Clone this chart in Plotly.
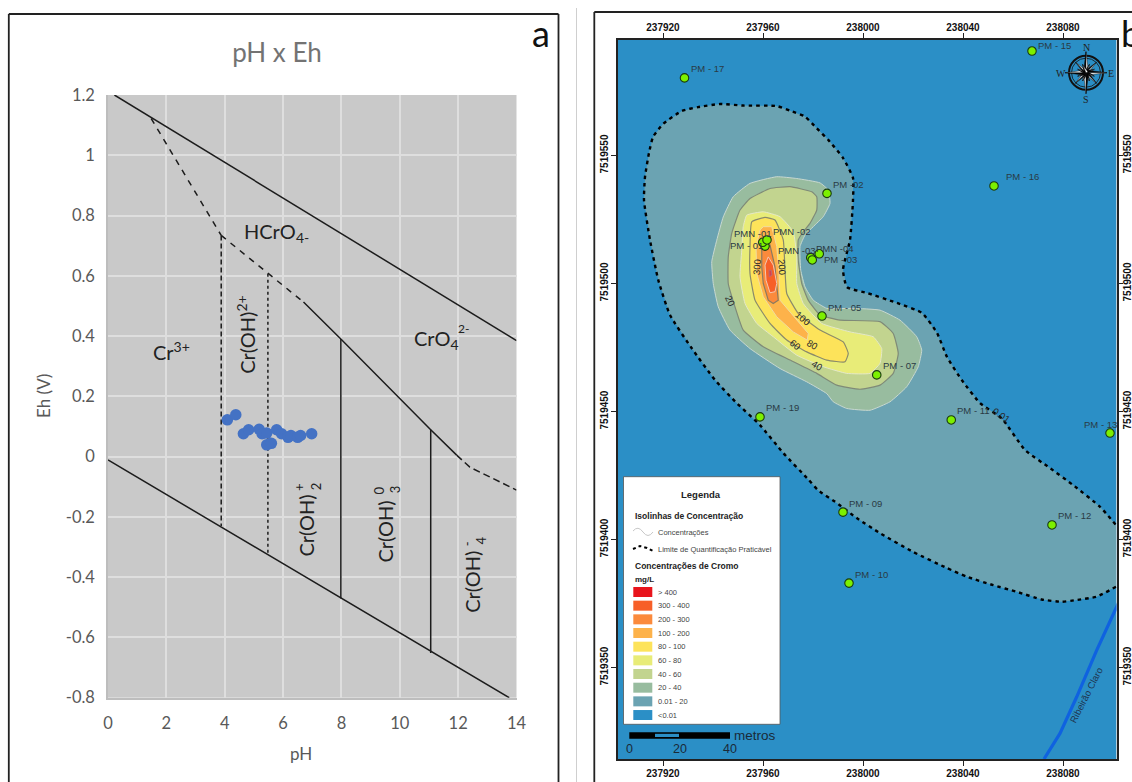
import math
import plotly.graph_objects as go

W, H = 1132, 782

# ---------- panel a : pH x Eh ----------
sample_ph = [4.09, 4.38, 4.64, 4.82, 5.18, 5.28, 5.44, 5.44, 5.6, 5.78, 5.95, 6.17, 6.27, 6.5, 6.6, 6.98]
sample_eh = [0.122, 0.139, 0.076, 0.089, 0.091, 0.076, 0.078, 0.039, 0.044, 0.089, 0.076, 0.064, 0.07, 0.064, 0.07, 0.076]

upper_ph, upper_eh = [0.22, 14], [1.2, 0.385]
lower_ph, lower_eh = [0, 13.75], [-0.011, -0.8]
dash_a_ph, dash_a_eh = [1.48, 3.88], [1.122, 0.734]
dash_b_ph, dash_b_eh = [3.88, 5.48, 6.7], [0.734, 0.607, 0.513]
solid_ph, solid_eh = [6.7, 7.98, 11.06, 11.95], [0.513, 0.39, 0.089, 0.005]
dash_c_ph, dash_c_eh = [11.95, 12.4, 14], [0.005, -0.035, -0.111]
v_dash_ph, v_dash_eh = [3.88, 3.88], [0.734, -0.23]
v_dot_ph, v_dot_eh = [5.48, 5.48], [0.607, -0.324]
v_8_ph, v_8_eh = [7.98, 7.98], [0.39, -0.471]
v_11_ph, v_11_eh = [11.06, 11.06], [0.089, -0.652]

ph_ticks = list(range(0, 15, 2))
eh_ticks = [-0.8, -0.6, -0.4, -0.2, 0, 0.2, 0.4, 0.6, 0.8, 1, 1.2]
eh_labels = ["-0.8", "-0.6", "-0.4", "-0.2", "0", "0.2", "0.4", "0.6", "0.8", "1", "1.2"]

# ---------- panel b : map (metres relative to E 237900 / N 7519500) ----------
E0, N0 = 237900, 7519500
pql_e = [201.2, 193.5, 185.5, 179.5, 171.5, 161.5, 152.1, 141.5, 133.5, 120, 106.8, 97.5, 89.5, 82, 78.1, 68.1, 58.8, 49.5, 40.8, 31.5, 22.8, 18.1, 14.8, 12.4, 12.8, 14.4, 16, 20, 27.6, 34, 42.8, 52, 65.5, 70.8, 76.8, 81.5, 86.1, 92.1, 96, 96, 94.8, 92, 93.6, 101.6, 113.6, 123.6, 129.6, 133.6, 139.5, 146.8, 155.5, 164.8, 174.8, 184, 194.8, 201.2]
pql_n = [-118.4, -122.3, -123.6, -124.3, -123.4, -120.4, -117.8, -114.5, -111.1, -104.8, -97.5, -91.6, -85.7, -80.7, -76.5, -66.2, -55.3, -46.7, -37.7, -25.3, -12.3, 1.4, 17, 32.6, 41.6, 51, 57.2, 62.3, 67.4, 68.9, 70.1, 69.5, 69.3, 67.5, 65.2, 60.6, 56.1, 48.9, 41.2, 32.6, 17, 5.3, -1.4, -3.7, -7.6, -11.5, -19.3, -28.7, -37.7, -46.7, -52.7, -65, -72.1, -78.7, -87.2, -94.3]

z20_e = [65.5, 73.5, 82.8, 86.1, 86.8, 84.1, 80.1, 76.8, 74.8, 75.1, 76.8, 80.1, 85.5, 96.1, 106.8, 114.8, 121.5, 123.5, 122.1, 117.5, 110.8, 102.8, 93.5, 88.1, 85.5, 77.5, 66.8, 54.8, 46.8, 42.1, 40.1, 39.5, 41.5, 44.1, 48.1, 54.8]
z20_n = [41.7, 41.0, 39.3, 36.5, 31.3, 26.1, 22.2, 18.9, 14.4, 5.2, -1.3, -6.5, -9.7, -9.7, -10.4, -14.3, -20.8, -26, -32.5, -40.3, -46.2, -49.5, -48.8, -46.2, -43, -38.4, -33.2, -25.4, -18.2, -9.1, 0, 8.5, 16.9, 26, 33.9, 39.1]
z40_e = [79.5, 81.5, 81.5, 78.8, 76.1, 74.1, 74.1, 75.5, 78.1, 82.8, 90.8, 106.8, 112.1, 114.1, 112.1, 106.8, 98.8, 89.5, 81.5, 70.8, 60.1, 52.1, 48.8, 46.1, 46.1, 47.5, 50.8, 54.8, 62.8, 70.8]
z40_n = [35.8, 33.9, 28.7, 23.5, 20.2, 17, 9.1, 0, -6.5, -12.3, -14.3, -14.9, -19.5, -27.3, -35.1, -39.7, -41.3, -39.7, -35.1, -29.9, -24.7, -18.2, -9.1, 0, 10.4, 19.6, 28.7, 33.2, 37.1, 37.8]
z60_e = [53.5, 60.1, 66.8, 72.1, 73.5, 73.5, 76.1, 83.5, 94.8, 104.1, 107.5, 106.8, 102.8, 93.5, 84.1, 73.5, 64.1, 57.5, 52.8, 50.8, 51.5, 52.1]
z60_n = [26.7, 28, 26.1, 20.2, 10.4, 0, -7.8, -15.6, -18.9, -20.8, -25.4, -31.2, -35.1, -35.1, -32.5, -28, -20.8, -15.6, -7.8, 2.6, 13, 22.2]
z80_e = [55.5, 60.8, 64.8, 68.1, 68.8, 69.5, 74.1, 82.8, 92.1, 94.1, 92.8, 85.5, 77.5, 69.5, 62.8, 56.8, 54.8, 54.8]
z80_n = [24.1, 25.8, 24.8, 17, 5.2, -3.9, -11.7, -18.2, -22.8, -27.3, -30.6, -29.9, -26.7, -22.1, -15.6, -6.5, 3.9, 14.4]
z100_e = [60.1, 63.5, 65.5, 66.4, 66.8, 78.1, 77.7, 72.1, 65.5, 60.1, 57.5, 57.2, 58.8]
z100_n = [22.2, 22.2, 14.4, 3.9, -6.5, -19.5, -22.1, -18.9, -13, -5.2, 3.9, 14.4, 20.9]
z200_e = [59.5, 62.8, 64.8, 66.1, 64.1, 62.1, 60.1, 59.5]
z200_n = [13.7, 15, 6.5, -6.5, -7.8, -6.5, 0, 6.5]
z300_e = [62.1, 64.1, 65.5, 64.8, 62.8, 61.2, 60.8]
z300_n = [10.4, 7.2, 0, -3.2, -3.6, 1.3, 7.2]
z400_e = [62.4, 63.3, 63.6, 62.5]
z400_n = [5.2, 5.2, 3.3, 2.6]

river_e = [203, 193.5, 185.5, 178.8, 172.4]
river_n = [-123, -143.2, -161.4, -175.7, -185.7]

station_names = ["PM - 17", "PM - 15", "PM -02", "PM - 16", "PM - 01", "PMN -01", "PMN -02", "PMN -03", "PMN -04", "PM - 03", "PM - 05", "PM - 07", "PM - 19", "PM - 11", "PM - 13", "PM - 09", "PM - 12", "PM - 10"]
station_e = [28.6, 167.6, 85.6, 152.4, 60.8, 59.9, 61.6, 79.1, 82.5, 79.7, 83.6, 105.5, 58.8, 135.3, 198.8, 92, 175.6, 94.4]
station_n = [80.3, 90.8, 35.2, 38.1, 14.6, 16.1, 17.0, 10.1, 11.6, 9.2, -12.7, -35.7, -52.1, -53.3, -58.4, -89.3, -94.3, -117]
# label offsets from each station, in screen pixels
station_dx = [4, 4, 4, 10, -37, -31, 4, -35, -5, 10, 4, 4, 4, 4, -28, 4, 4, 4]
station_dy = [9, 6, 9, 9, 1, 9, 8, 7, 5, 0, 9, 9, 9, 9, 9, 9, 9, 9]

iso_labels = ["20", "40", "60", "80", "100", "200", "300", "0.01"]
iso_e = [46.8, 81.7, 72.8, 79.7, 76.1, 67.5, 57.7, 155.5]
iso_n = [-6.7, -31.9, -23.8, -23.8, -13.6, 6.5, 6.5, -51.6]
iso_rot = [65, 30, 40, 30, 40, 85, -85, 35]

map_x_ticks = [237920, 237960, 238000, 238040, 238080]
map_y_ticks = [7519350, 7519400, 7519450, 7519500, 7519550]

legend_labels = ["> 400", "300 - 400", "200 - 300", "100 - 200", "80 - 100", "60 - 80", "40 - 60", "20 - 40", "0.01 - 20", "<0.01"]
legend_colors = ["#e8141c", "#f75f28", "#fb8a3c", "#fdb24a", "#fde35a", "#e8ec78", "#c2d48f", "#98bc9f", "#6ba3b2", "#2b8fc6"]

# ---------- helpers ----------
def X(p):
    return p / W

def Y(p):
    return 1 - p / H

LATO = "Lato, 'Open Sans', sans-serif"
ARIAL = "'Liberation Sans', Arial, sans-serif"
GREY = "#595959"
BLACK = "#1c1c1c"

fig = go.Figure()

def chem_line(px_, py_, dash="solid", width=1.5):
    fig.add_trace(go.Scatter(x=px_, y=py_, mode="lines", xaxis="x", yaxis="y", hoverinfo="skip",
                             line=dict(color=BLACK, width=width, dash=dash), showlegend=False))

chem_line(upper_ph, upper_eh)
chem_line(lower_ph, lower_eh)
chem_line(dash_a_ph, dash_a_eh, "6px,6px")
chem_line(dash_b_ph, dash_b_eh, "6px,6px")
chem_line(solid_ph, solid_eh)
chem_line(dash_c_ph, dash_c_eh, "7px,4px")
chem_line(v_dash_ph, v_dash_eh, "5px,3px")
chem_line(v_dot_ph, v_dot_eh, "3px,3px")
chem_line(v_8_ph, v_8_eh)
chem_line(v_11_ph, v_11_eh)
fig.add_trace(go.Scatter(x=sample_ph, y=sample_eh, mode="markers", xaxis="x", yaxis="y", showlegend=False,
                         marker=dict(color="#4472c4", size=11.5, line=dict(width=0))))

# map zones
def zone(e, n, color, edge, width=1.0, smooth=True):
    fig.add_trace(go.Scatter(x=[E0 + v for v in e] + [E0 + e[0]], y=[N0 + v for v in n] + [N0 + n[0]],
                             mode="lines", fill="toself", fillcolor=color, xaxis="x2", yaxis="y2",
                             hoverinfo="skip", showlegend=False,
                             line=dict(color=edge, width=width, shape="spline" if smooth else "linear", smoothing=0.4)))

fig.add_trace(go.Scatter(x=[E0 + v for v in pql_e], y=[N0 + v for v in pql_n], mode="none", fill="toself",
                         fillcolor=legend_colors[8], xaxis="x2", yaxis="y2", hoverinfo="skip", showlegend=False))
zone(z20_e, z20_n, legend_colors[7], "#c8d8d0")
zone(z40_e, z40_n, legend_colors[6], "#7f8a78", 1.2)
zone(z60_e, z60_n, legend_colors[5], "#e4e8c8")
zone(z80_e, z80_n, legend_colors[4], "#8a8a6a", 1.2)
zone(z100_e, z100_n, legend_colors[3], "#f0dca0", 1.0, False)
zone(z200_e, z200_n, legend_colors[2], "#8a7a60", 1.2, False)
zone(z300_e, z300_n, legend_colors[1], "#f4c8b0", 1.0, False)
zone(z400_e, z400_n, "#d8404c", "#b07080", 0.8, False)

fig.add_trace(go.Scatter(x=[E0 + v for v in pql_e], y=[N0 + v for v in pql_n], mode="lines", xaxis="x2", yaxis="y2",
                         hoverinfo="skip", showlegend=False,
                         line=dict(color="#000000", width=2.4, dash="3.5px,4px", shape="spline", smoothing=0.5)))
fig.add_trace(go.Scatter(x=[E0 + v for v in river_e], y=[N0 + v for v in river_n], mode="lines", xaxis="x2", yaxis="y2",
                         hoverinfo="skip", showlegend=False, line=dict(color="#0f62e0", width=3.2)))
# stations on the overlay axes, so the top and right scales exist and the points sit on top
fig.add_trace(go.Scatter(x=[E0 + v for v in station_e], y=[N0 + v for v in station_n], mode="markers",
                         xaxis="x3", yaxis="y3", showlegend=False, text=station_names, hoverinfo="text",
                         marker=dict(color="#7cf000", size=8.5, line=dict(color="#1a3a10", width=1.1))))

annotations = []
def text_data(t, x, y, xref="x", yref="y", size=20, color="#222222", rot=0, family=LATO, **kw):
    annotations.append(dict(text=t, x=x, y=y, xref=xref, yref=yref, showarrow=False, textangle=rot,
                            font=dict(family=family, size=size, color=color), **kw))

def text_px(t, x, y, size=8, color="#222222", anchor="left", bold=False, family=ARIAL, rot=0):
    annotations.append(dict(text=t, x=X(x), y=Y(y), xref="paper", yref="paper", showarrow=False, xanchor=anchor,
                            yanchor="middle", textangle=rot,
                            font=dict(family=family, size=size, color=color, weight=700 if bold else 400)))

# axis titles of panel a
text_px("pH", 301, 753, size=17, color=GREY, anchor="center", family=LATO)
text_px("Eh (V)", 43, 396, size=17, color=GREY, anchor="center", family=LATO, rot=-90)

# chemistry labels
text_data("HCrO<sub>4-</sub>", 5.76, 0.743)
text_data("CrO<sub>4</sub>", 11.25, 0.39)
text_data("2-", 12.2, 0.425, size=12)
text_data("Cr<sup>3+</sup>", 2.17, 0.35)
text_data("Cr(OH)<sup>2+</sup>", 4.7, 0.405, rot=-90)
text_data("Cr(OH)", 6.77, -0.23, rot=-90)
text_data("+", 6.55, -0.10, size=13, rot=-90)
text_data("2", 7.14, -0.097, size=13, rot=-90)
text_data("Cr(OH)", 9.51, -0.247, rot=-90)
text_data("0", 9.28, -0.113, size=13, rot=-90)
text_data("3", 9.84, -0.108, size=13, rot=-90)
text_data("Cr(OH)", 12.47, -0.416, rot=-90)
text_data("-", 12.31, -0.29, size=13, rot=-90)
text_data("4", 12.77, -0.28, size=13, rot=-90)

text_px("a", 541, 33, size=36, color="#111111", anchor="center", family=LATO)
text_px("b", 1119, 33, size=36, color="#111111", anchor="left", family=LATO)

# station labels
for nm, e, n, dx, dy in zip(station_names, station_e, station_n, station_dx, station_dy):
    text_data(nm, E0 + e, N0 + n, xref="x3", yref="y3", size=9.5, color="#2a3a44", family=ARIAL,
              xanchor="left", yanchor="middle", xshift=dx, yshift=dy)
for t, e, n, r in zip(iso_labels, iso_e, iso_n, iso_rot):
    text_data(t, E0 + e, N0 + n, xref="x3", yref="y3", size=9.5, color="#2a2a2a", family=ARIAL, rot=r)
text_data("Ribeirão Claro", E0 + 189.5, N0 - 160.7, xref="x3", yref="y3", size=9.5, color="#1f3550", family=ARIAL, rot=-63)

# legend texts
text_px("Legenda", 701, 494, size=9.5, anchor="center", bold=True)
text_px("Isolinhas de Concentração", 633, 516, size=8.5, bold=True)
text_px("Concentrações", 656, 532, size=7.5, color="#444444")
text_px("Limite de Quantificação Praticável", 656, 549, size=7.5, color="#444444")
text_px("Concentrações de Cromo", 633, 566, size=8.5, bold=True)
text_px("mg/L", 633, 579, size=8, bold=True)
shapes = []
rows_y = [592 + i * 13.67 for i in range(10)]
shapes.append(dict(type="rect", xref="paper", yref="paper", x0=X(623.5), x1=X(780), y0=Y(476.7), y1=Y(724.3),
                   fillcolor="#ffffff", line=dict(color="#555555", width=0.8), layer="above"))
for lab, col, ry in zip(legend_labels, legend_colors, rows_y):
    shapes.append(dict(type="rect", xref="paper", yref="paper", x0=X(633.3), x1=X(652.3), y0=Y(ry - 5), y1=Y(ry + 5),
                       fillcolor=col, line=dict(width=0), layer="above"))
    text_px(lab, 656, ry, size=7.5, color="#444444")

def path(points, close=False):
    s = "M " + " L ".join(f"{X(a):.5f} {Y(b):.5f}" for a, b in points)
    return s + (" Z" if close else "")

shapes.append(dict(type="path", xref="paper", yref="paper", layer="above", line=dict(color="#c8c8c8", width=1),
                   path=f"M {X(633):.5f} {Y(531):.5f} Q {X(638):.5f} {Y(525):.5f} {X(643):.5f} {Y(532):.5f} T {X(653):.5f} {Y(532):.5f}"))
shapes.append(dict(type="path", xref="paper", yref="paper", layer="above",
                   line=dict(color="#000000", width=2, dash="3px,3px"),
                   path=path([(633, 549), (640, 546), (647, 548), (653, 551)])))

# scale bar
shapes.append(dict(type="rect", xref="paper", yref="paper", x0=X(629.3), x1=X(730), y0=Y(732.3), y1=Y(738.7),
                   fillcolor="#000000", line=dict(width=0), layer="above"))
shapes.append(dict(type="rect", xref="paper", yref="paper", x0=X(655), x1=X(679), y0=Y(733.8), y1=Y(737),
                   fillcolor="#2b8fc6", line=dict(width=0), layer="above"))
text_px("metros", 732, 735, size=13.5, color="#1a2a38")
for t, x_ in (("0", 629.5), ("20", 680), ("40", 730)):
    text_px(t, x_, 748.5, size=12.5, color="#1a2a38", anchor="center")

# compass
cx, cy = 1086, 72.7
for r, w in ((17, 2), (14.5, 0.8)):
    shapes.append(dict(type="circle", xref="paper", yref="paper", x0=X(cx - r), x1=X(cx + r), y0=Y(cy - r), y1=Y(cy + r),
                       line=dict(color="#111111", width=w), layer="above"))
for i in range(16):
    ang = i * math.pi / 8
    main = i % 4 == 0
    diag = i % 4 == 2
    length = 21 if main else (15 if diag else 9)
    half = 2.6 if main else 2.0
    tip = (cx + length * math.sin(ang), cy - length * math.cos(ang))
    left = (cx + half * math.sin(ang - math.pi / 2), cy - half * math.cos(ang - math.pi / 2))
    right = (cx + half * math.sin(ang + math.pi / 2), cy - half * math.cos(ang + math.pi / 2))
    shapes.append(dict(type="path", xref="paper", yref="paper", layer="above", line=dict(color="#111111", width=0.5),
                       fillcolor="#000000", path=path([tip, left, (cx, cy)], True)))
    shapes.append(dict(type="path", xref="paper", yref="paper", layer="above", line=dict(color="#111111", width=0.5),
                       fillcolor="#ffffff", path=path([tip, right, (cx, cy)], True)))
SERIF = "'Liberation Serif', serif"
text_px("N", cx, 48, size=10, anchor="center", family=SERIF)
text_px("S", cx, 99.5, size=10, anchor="center", family=SERIF)
text_px("W", 1060.5, 73.5, size=10, anchor="center", family=SERIF)
text_px("E", 1111, 73.5, size=10, anchor="center", family=SERIF)

# panel frames
def frame_line(x0, y0, x1, y1, color="#222222", width=1.8):
    shapes.append(dict(type="line", xref="paper", yref="paper", x0=X(x0), x1=X(x1), y0=Y(y0), y1=Y(y1),
                       line=dict(color=color, width=width), layer="above"))

frame_line(8.8, 14, 558.5, 14)
frame_line(8.8, 14, 8.8, 782)
frame_line(558.5, 14, 558.5, 782)
frame_line(576.5, 8, 576.5, 782, color="#cfcfcf", width=1)
frame_line(594.3, 12, 1132, 12)
frame_line(594.3, 12, 594.3, 782)

common_a = dict(showgrid=True, gridcolor="#dedede", gridwidth=1.5, zeroline=False, ticks="", automargin=False,
                tickfont=dict(family=LATO, size=16.5, color=GREY), showline=True, linecolor="#bdbdbd", linewidth=1.5)
bold = dict(family=ARIAL, size=10, color="#111111", weight=700)
common_map = dict(showgrid=False, zeroline=False, ticks="outside", ticklen=5, tickwidth=1, tickcolor="#222222", automargin=False,
                  showline=True, linecolor="#222222", linewidth=1.6, tickfont=bold)
xr = [237902, 238101.4]
yr = [7519314.3, 7519595.1]
dom_x, dom_y = [X(618), X(1116.5)], [Y(759), Y(40)]

fig.update_layout(
    width=W, height=H, margin=dict(l=0, r=0, t=0, b=0, pad=0, autoexpand=False),
    paper_bgcolor="#ffffff", plot_bgcolor="#c9c9c9", showlegend=False,
    title=dict(text="pH x Eh", x=X(277), y=Y(53), xanchor="center", yanchor="middle", font=dict(family=LATO, size=26, color="#737373")),
    xaxis=dict(domain=[X(108), X(516.5)], range=[0, 14], tickvals=ph_ticks, anchor="y", ticklabelstandoff=10, **common_a),
    yaxis=dict(domain=[Y(697.7), Y(95)], range=[-0.8, 1.2], tickvals=eh_ticks, ticktext=eh_labels, anchor="x", ticklabelstandoff=8, **common_a),
    xaxis2=dict(domain=dom_x, range=xr, tickvals=map_x_ticks, ticktext=[str(v) for v in map_x_ticks], anchor="y2", side="bottom", ticklabelstandoff=-1, **common_map),
    yaxis2=dict(domain=dom_y, range=yr, tickvals=map_y_ticks, ticktext=[str(v) for v in map_y_ticks], anchor="x2", side="left", tickangle=-90, ticklabelstandoff=-1, **common_map),
    xaxis3=dict(domain=dom_x, range=xr, tickvals=map_x_ticks, ticktext=[str(v) for v in map_x_ticks], anchor="y3", side="top", overlaying="x2", ticklabelstandoff=-2, **common_map),
    yaxis3=dict(domain=dom_y, range=yr, tickvals=map_y_ticks, ticktext=[str(v) for v in map_y_ticks], anchor="x3", side="right", overlaying="y2", tickangle=-90, ticklabelstandoff=-4, **common_map),
    annotations=annotations, shapes=shapes,
)
# map background, drawn below the traces through the axes of panel b
fig.add_shape(type="rect", xref="x2", yref="y2", x0=xr[0], x1=xr[1], y0=yr[0], y1=yr[1],
              fillcolor=legend_colors[9], line=dict(width=0), layer="below")

fig.write_html("out.html", config=dict(displayModeBar=False),
               post_script="document.body.style.margin='0';document.body.style.overflow='hidden';")
